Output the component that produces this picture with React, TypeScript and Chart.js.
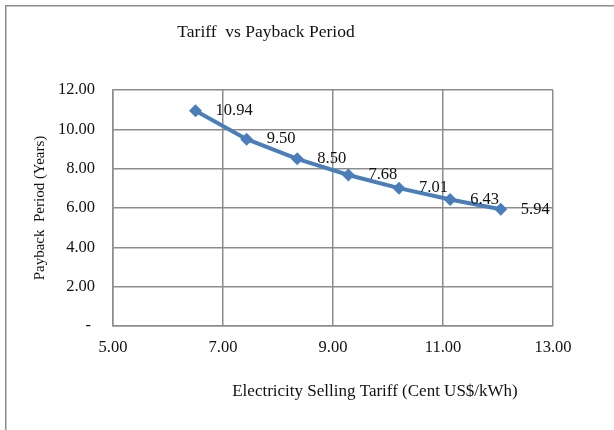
import { useEffect, useRef } from "react";
import { Chart, registerables } from "chart.js";

Chart.register(...registerables);

const chartTitle = "Tariff  vs Payback Period";
const xAxisTitle = "Electricity Selling Tariff (Cent US$/kWh)";
const yAxisTitle = "Payback  Period (Years)";
const tariffs = [6.5, 7.43, 8.35, 9.28, 10.2, 11.13, 12.05];
const paybackYears = [10.94, 9.5, 8.5, 7.68, 7.01, 6.43, 5.94];
const xRange = [5, 13];
const yRange = [0, 12];

const FONT = "'Liberation Serif', 'Times New Roman', serif";

const decorPlugin = {
  id: "decor",
  beforeDraw(chart: any) {
    const ctx = chart.ctx;
    ctx.save();
    ctx.fillStyle = "#fff";
    ctx.fillRect(0, 0, chart.width, chart.height);
    ctx.strokeStyle = "#8c8c8c";
    ctx.lineWidth = 1.5;
    ctx.beginPath();
    ctx.moveTo(5.75, chart.height);
    ctx.lineTo(5.75, 5.75);
    ctx.lineTo(chart.width, 5.75);
    ctx.stroke();
    ctx.restore();
  },
  afterDraw(chart: any) {
    const ctx = chart.ctx;
    ctx.save();
    ctx.fillStyle = "#111";
    ctx.textAlign = "center";
    ctx.textBaseline = "middle";
    ctx.font = `17.5px ${FONT}`;
    ctx.fillText(chartTitle, 266, 32);
    ctx.font = `17px ${FONT}`;
    ctx.fillText(xAxisTitle, 375, 392);
    ctx.translate(40, 208);
    ctx.rotate(-Math.PI / 2);
    ctx.font = `15px ${FONT}`;
    ctx.fillText(yAxisTitle, 0, 0);
    ctx.restore();
  },
  afterDatasetsDraw(chart: any) {
    const ctx = chart.ctx;
    const meta = chart.getDatasetMeta(0);
    ctx.save();
    ctx.fillStyle = "#111";
    ctx.font = `16.5px ${FONT}`;
    ctx.textAlign = "left";
    ctx.textBaseline = "middle";
    meta.data.forEach((pt: any, i: number) => {
      ctx.fillText(paybackYears[i].toFixed(2), pt.x + 20, pt.y);
    });
    ctx.restore();
  },
};

export default function App() {
  const ref = useRef<HTMLCanvasElement>(null);
  useEffect(() => {
    if (!ref.current) return;
    const chart = new Chart(ref.current, {
      type: "line",
      data: {
        datasets: [
          {
            data: tariffs.map((x, i) => ({ x, y: paybackYears[i] })),
            borderColor: "#4a7ebb",
            backgroundColor: "#4a7ebb",
            borderWidth: 4,
            pointStyle: "rectRot",
            pointRadius: 6.5,
            pointBorderWidth: 0,
            tension: 0,
          },
        ],
      },
      options: {
        animation: false,
        responsive: false,
        maintainAspectRatio: false,
        layout: { padding: { left: 0, top: 90, right: 61, bottom: 0 } },
        plugins: { legend: { display: false }, tooltip: { enabled: false }, title: { display: false } },
        scales: {
          x: {
            type: "linear",
            min: xRange[0],
            max: xRange[1],
            ticks: {
              stepSize: 2,
              padding: 12,
              color: "#111",
              font: { family: FONT, size: 16.5 },
              callback: (v: any) => Number(v).toFixed(2),
            },
            grid: { color: "#8c8c8c", lineWidth: 1.5, drawTicks: false },
            border: { color: "#8c8c8c", width: 1.5 },
            afterFit: (s: any) => {
              s.height = 430 - 326;
            },
          },
          y: {
            type: "linear",
            min: yRange[0],
            max: yRange[1],
            ticks: {
              stepSize: 2,
              padding: 18,
              color: "#111",
              font: { family: FONT, size: 16.5 },
              callback: (v: any) => (Number(v) === 0 ? "- " : Number(v).toFixed(2)),
            },
            grid: { color: "#8c8c8c", lineWidth: 1.5, drawTicks: false },
            border: { color: "#8c8c8c", width: 1.5 },
            afterFit: (s: any) => {
              s.width = 113;
            },
          },
        },
      },
      plugins: [decorPlugin],
    } as any);
    return () => chart.destroy();
  }, []);
  return (
    <div style={{ position: "fixed", left: 0, top: 0, width: 614, height: 430, background: "#fff" }}>
      <canvas ref={ref} width={614} height={430} style={{ width: 614, height: 430, display: "block" }} />
    </div>
  );
}
